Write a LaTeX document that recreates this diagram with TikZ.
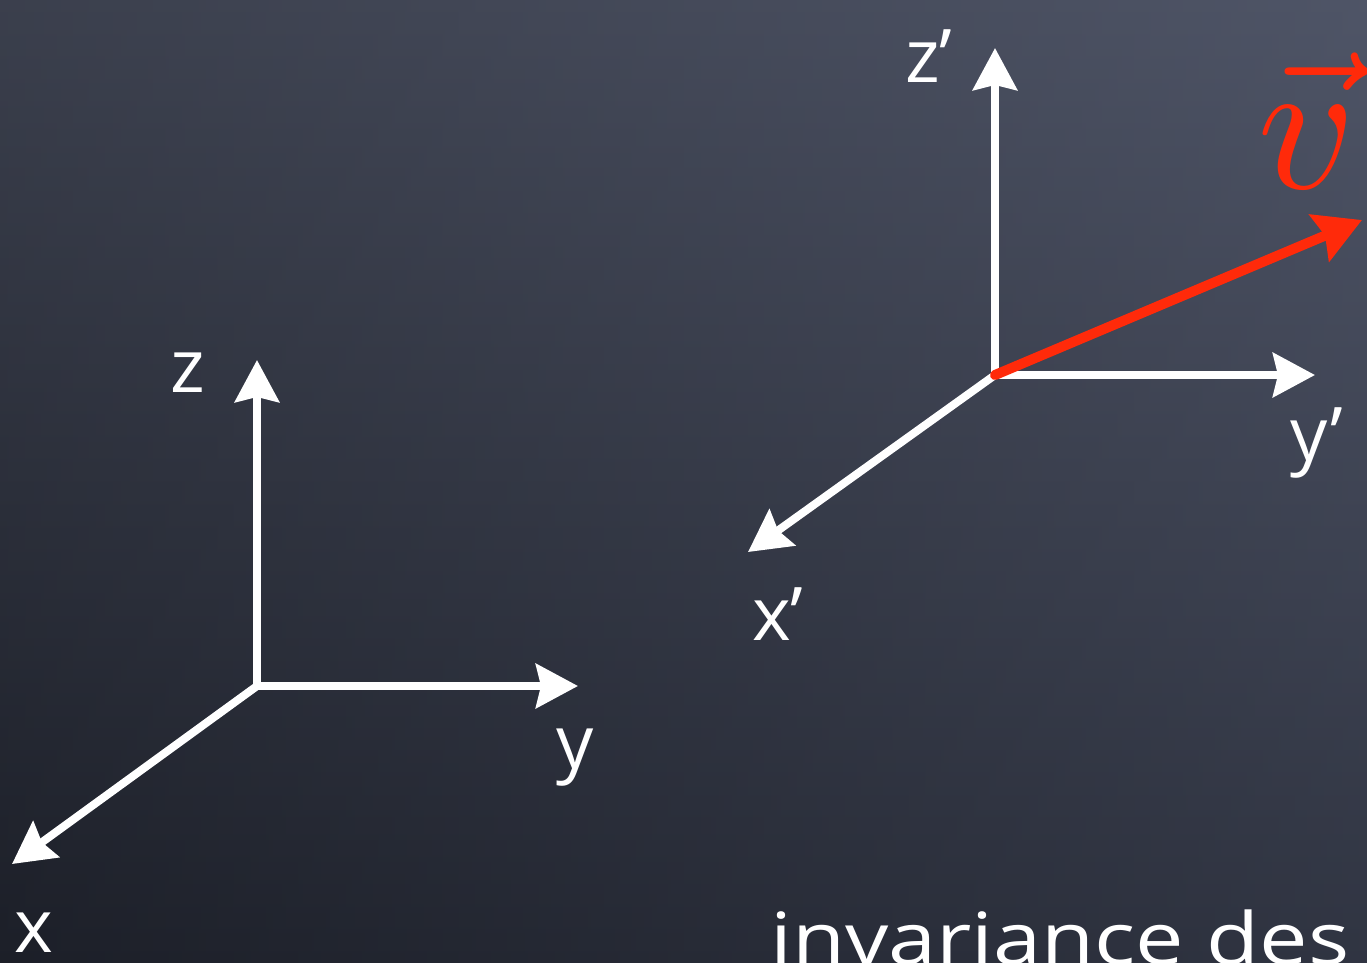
\documentclass[tikz,border=0pt]{standalone}
\usepackage{fontspec}
\setmainfont{Open Sans}
\usetikzlibrary{arrows.meta}
\definecolor{boardtop}{HTML}{4f5567}
\definecolor{boardbot}{HTML}{262a36}
\definecolor{chalkred}{HTML}{FF2A0A}
\tikzset{
  axis/.style={white, line width=8pt, -{Stealth[length=42pt,width=44pt,inset=5pt]}},
  vel/.style={chalkred, line width=10pt, line cap=round, -{Stealth[length=46pt,width=50pt,inset=6pt]}},
  lbl/.style={white, font=\fontsize{74}{74}\selectfont, inner sep=0pt, anchor=base west},
}
\begin{document}
\begin{tikzpicture}[x=1pt,y=-1pt]
\useasboundingbox (0,0) rectangle (1367,962);
\shade[top color=boardtop, bottom color=boardbot] (0,0) rectangle (1367,962);
\shade[left color=black, right color=boardtop, opacity=0.25] (0,0) rectangle (1367,962);
% left frame
\coordinate (O) at (257,686);
\coordinate (Z) at (257,360);
\coordinate (Y) at (578,686);
\coordinate (X) at (12,864);
\draw[axis] (O) -- (Z);
\draw[axis] (O) -- (Y);
\draw[axis] (O) -- (X);
\node[lbl] (zl) at (170,392) {z};
\node[lbl] (yl) at (556,768) {y};
\node[lbl] (xl) at (14,952) {x};
% right frame
\coordinate (Op) at (995,375);
\coordinate (Zp) at (995,48);
\coordinate (Yp) at (1315,375);
\coordinate (Xp) at (748,552);
\coordinate (V) at (1362,220);
\draw[axis] (Op) -- (Zp);
\draw[axis] (Op) -- (Yp);
\draw[axis] (Op) -- (Xp);
\draw[vel] (Op) -- (V);
\node[lbl] (zpl) at (905,82) {z’};
\node[lbl] (ypl) at (1290,460) {y’};
\node[lbl] (xpl) at (752,640) {x’};
\node[chalkred, scale=19, inner sep=0pt, anchor=base west] (vl) at (1254,188) {$\vec{v}$};
\node[lbl, xscale=1.2, font=\fontsize{72}{72}\selectfont] (inv) at (770,964) {invariance des};
\end{tikzpicture}
\end{document}
